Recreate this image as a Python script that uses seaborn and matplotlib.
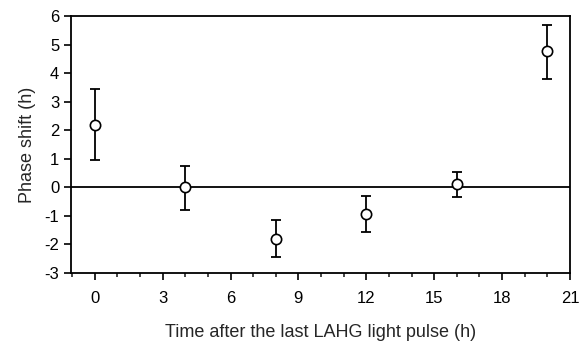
import matplotlib
matplotlib.use("Agg")
import matplotlib.pyplot as plt
import seaborn as sns
import pandas as pd
from matplotlib.ticker import MultipleLocator

sns.set_style("ticks")
plt.rcParams['font.family'] = ['Liberation Sans', 'DejaVu Sans']
plt.rcParams['axes.unicode_minus'] = False

time_h = [0, 4, 8, 12, 16, 20]
phase_shift = [2.2, 0.0, -1.82, -0.92, 0.1, 4.76]
err_low = [1.25, 0.8, 0.63, 0.65, 0.45, 0.98]
err_high = [1.25, 0.75, 0.67, 0.61, 0.42, 0.94]

df = pd.DataFrame({"time": time_h, "shift": phase_shift})

fig = plt.figure(figsize=(5.8, 3.43), dpi=100)
ax = fig.add_axes([71/580, 1 - 273/343, (570-71)/580, (273-16)/343])

ax.axhline(0, color="black", lw=1.3, zorder=1)
ax.errorbar(time_h, phase_shift, yerr=[err_low, err_high], fmt="none",
            ecolor="black", elinewidth=1.3, capsize=3.5, capthick=1.3, zorder=2)
sns.scatterplot(data=df, x="time", y="shift", ax=ax, marker="o", s=55,
                facecolor="white", edgecolor="black", linewidth=1.2, zorder=3)

ax.set_xlim(-1.05, 21)
ax.set_ylim(-3, 6)
ax.xaxis.set_major_locator(MultipleLocator(3))
ax.xaxis.set_minor_locator(MultipleLocator(1))
ax.yaxis.set_major_locator(MultipleLocator(1))
ax.tick_params(axis="both", which="major", direction="out", length=5, width=1.2,
               labelsize=12, colors="black")
ax.tick_params(axis="x", which="minor", direction="out", length=3, width=1.2)
ax.tick_params(axis="x", pad=8)
for s in ax.spines.values():
    s.set_linewidth(1.3)
    s.set_color("black")
    s.set_visible(True)

ax.set_xlabel("Time after the last LAHG light pulse (h)", fontsize=13, labelpad=13)
ax.set_ylabel("Phase shift (h)", fontsize=13, labelpad=6)

fig.savefig("out.png", dpi=100)
